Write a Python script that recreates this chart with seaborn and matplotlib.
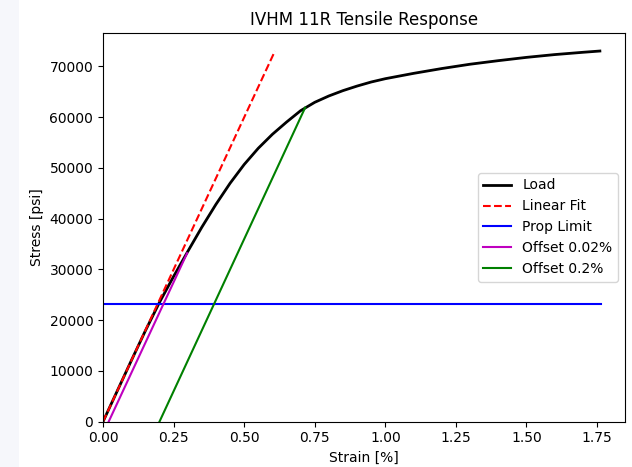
import matplotlib
matplotlib.use("Agg")
import matplotlib.pyplot as plt
import seaborn as sns
from matplotlib.patches import Rectangle

# Data
load_strain = [0.0, 0.05, 0.10, 0.15, 0.20, 0.25, 0.30, 0.35, 0.40, 0.45, 0.50,
               0.55, 0.60, 0.65, 0.70, 0.75, 0.80, 0.85, 0.90, 0.95, 1.00,
               1.10, 1.20, 1.30, 1.40, 1.50, 1.60, 1.70, 1.76]
load_stress = [0, 6000, 12000, 17900, 23500, 28600, 33500, 38300, 42800, 46950, 50650,
               53850, 56600, 59000, 61250, 62900, 64150, 65200, 66100, 66900, 67550,
               68600, 69550, 70400, 71100, 71750, 72300, 72750, 73000]

fit_strain = [0.0, 0.609]
fit_stress = [0, 73000]

prop_strain = [0.0, 1.764]
prop_stress = [23200, 23200]

off002_strain = [0.02, 0.298]
off002_stress = [0, 33200]

off02_strain = [0.20, 0.716]
off02_stress = [0, 61850]

W, H = 632, 467
fig = plt.figure(figsize=(W / 100, H / 100), dpi=100)
fig.patches.append(Rectangle((0, 0), 19 / W, 1, transform=fig.transFigure,
                             facecolor="#f6f7fb", edgecolor="none", zorder=0))
left, right, top, bottom = 103, 625, 33, 421.7
ax = fig.add_axes([left / W, 1 - bottom / H, (right - left) / W, (bottom - top) / H])

sns.lineplot(x=load_strain, y=load_stress, ax=ax, color="black", lw=2.0,
             sort=False, label="Load")
sns.lineplot(x=fit_strain, y=fit_stress, ax=ax, color="red", lw=1.5,
             linestyle="--", sort=False, label="Linear Fit")
sns.lineplot(x=prop_strain, y=prop_stress, ax=ax, color="blue", lw=1.5,
             sort=False, label="Prop Limit")
sns.lineplot(x=off002_strain, y=off002_stress, ax=ax, color="m", lw=1.5,
             sort=False, label="Offset 0.02%")
sns.lineplot(x=off02_strain, y=off02_stress, ax=ax, color="green", lw=1.5,
             sort=False, label="Offset 0.2%")

ax.set_xlim(0, 1.849)
ax.set_ylim(0, 76550)
ax.set_xticks([0, 0.25, 0.5, 0.75, 1.0, 1.25, 1.5, 1.75])
ax.set_xticklabels(["0.00", "0.25", "0.50", "0.75", "1.00", "1.25", "1.50", "1.75"])
ax.set_yticks(range(0, 70001, 10000))
ax.set_xlabel("Strain [%]")
ax.set_ylabel("Stress [psi]")
ax.set_title("IVHM 11R Tensile Response")
ax.legend(loc="center right")

fig.savefig("out.png", dpi=100)
